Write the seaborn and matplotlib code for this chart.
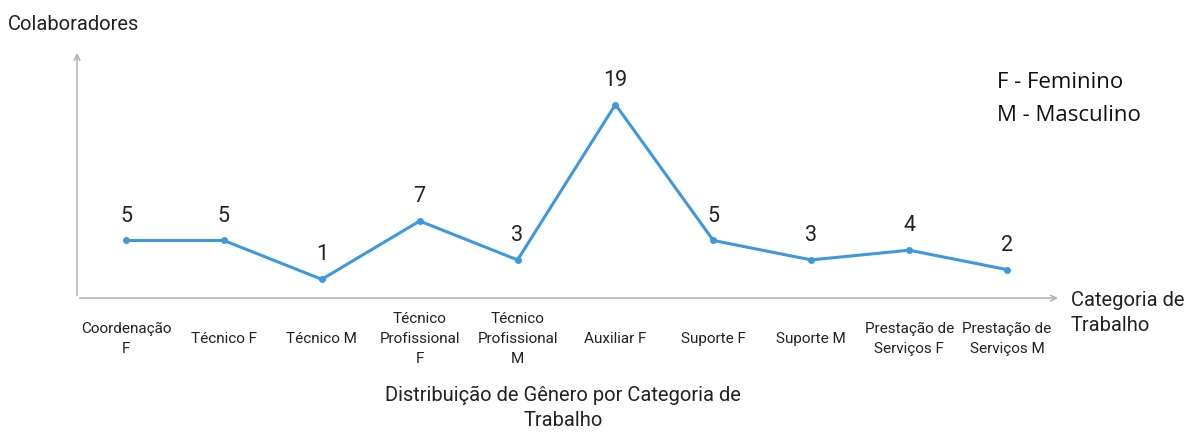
import matplotlib
matplotlib.use("Agg")
import matplotlib.pyplot as plt
import seaborn as sns
import pandas as pd

# dados
categorias = ["Coordenação\nF", "Técnico F", "Técnico M", "Técnico\nProfissional\nF",
              "Técnico\nProfissional\nM", "Auxiliar F", "Suporte F", "Suporte M",
              "Prestação de\nServiços F", "Prestação de\nServiços M"]
colaboradores = [5, 5, 1, 7, 3, 19, 5, 3, 4, 2]

df = pd.DataFrame({"categoria": categorias, "colaboradores": colaboradores})

sns.set_style("white")
plt.rcParams["font.family"] = ["Roboto", "DejaVu Sans"]

fig = plt.figure(figsize=(11.94, 4.32), dpi=100)
ax = fig.add_axes([0.0645, 0.310, 0.824, 0.574])

azul = "#3d98de"
sns.lineplot(data=df, x="categoria", y="colaboradores", ax=ax, color=azul,
             linewidth=2.2, marker="o", markersize=5, markeredgewidth=0, sort=False)

for i, v in enumerate(colaboradores):
    ax.annotate(str(v), (i, v), xytext=(0, 10), textcoords="offset points",
                ha="center", va="bottom", fontsize=15.5, color="#222222")

ax.set_xlim(-0.5, 9.55)
ax.set_ylim(-0.93, 24.6)
ax.set_xlabel("")
ax.set_ylabel("")
ax.set_yticks([])
for s in ax.spines.values():
    s.set_visible(False)

ax.tick_params(axis="x", length=0, pad=29.5, labelsize=11, labelcolor="#222222")
for lab in ax.get_xticklabels():
    lab.set_va("center")
    lab.set_ha("center")
    lab.set_multialignment("center")
    lab.set_linespacing(1.55)

# eixos com setas
cinza = "#b5b5b5"
ax.annotate("", xy=(1.0, 0), xytext=(0, 0), xycoords="axes fraction",
            arrowprops=dict(arrowstyle="->", color=cinza, lw=1.2), annotation_clip=False)
ax.annotate("", xy=(0, 1.0), xytext=(0, 0), xycoords="axes fraction",
            arrowprops=dict(arrowstyle="->", color=cinza, lw=1.2), annotation_clip=False)

fig.text(8 / 1194, 1 - 25 / 432, "Colaboradores", fontsize=14.5, va="center", ha="left",
         color="#222222")
fig.text(1071 / 1194, 1 - 313 / 432, "Categoria de\nTrabalho", fontsize=14.5, va="center",
         ha="left", color="#222222", linespacing=1.4)
fig.text(563 / 1194, 1 - 408 / 432, "Distribuição de Gênero por Categoria de\nTrabalho",
         fontsize=14.5, va="center", ha="center", color="#222222", linespacing=1.45)
fig.text(997 / 1194, 1 - 99 / 432, "F - Feminino\nM - Masculino", fontsize=16,
         va="center", ha="left", color="#111111", family=["Open Sans", "DejaVu Sans"],
         linespacing=1.72)

fig.savefig("out.png", dpi=100)
